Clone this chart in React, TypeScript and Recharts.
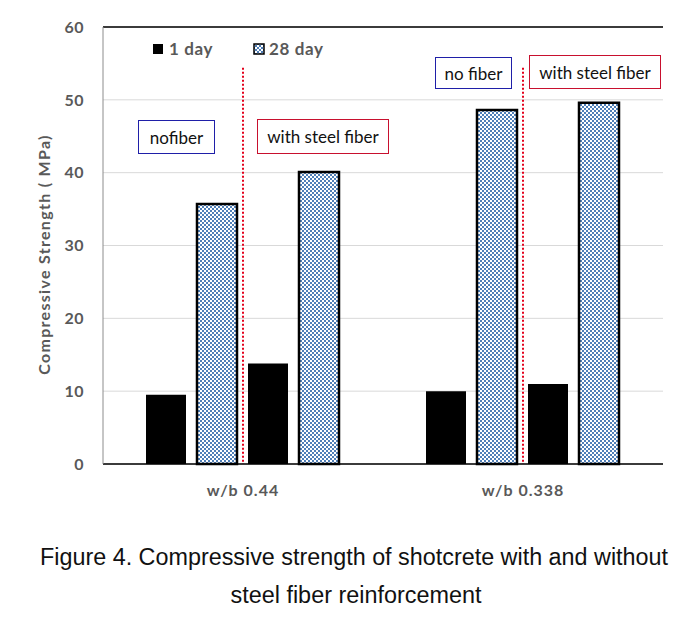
import React from 'react';
import { BarChart, Bar, XAxis, YAxis, CartesianGrid, ReferenceLine, Legend, Label } from 'recharts';

const categories = ['w/b 0.44', 'w/b 0.338'];
const oneDayNoFiber = [9.5, 10.0];
const day28NoFiber = [35.7, 48.6];
const oneDaySteel = [13.8, 11.0];
const day28Steel = [40.1, 49.6];
const yTicks = [0, 10, 20, 30, 40, 50, 60];
const legendLabels = ['1 day', '28 day'];
const yTitle = 'Compressive Strength ( MPa)';
const annotations = [
  { text: 'nofiber', color: '#1f1fa8', left: 138, top: 120, width: 77, height: 34 },
  { text: 'with steel fiber', color: '#c8102e', left: 257, top: 119, width: 132, height: 35 },
  { text: 'no fiber', color: '#1f1fa8', left: 435, top: 57, width: 77, height: 32 },
  { text: 'with steel fiber', color: '#c8102e', left: 529, top: 55, width: 132, height: 34 },
];

const data = categories.map((c, i) => ({
  name: c,
  d1n: oneDayNoFiber[i],
  d28n: day28NoFiber[i],
  d1s: oneDaySteel[i],
  d28s: day28Steel[i],
}));

const FONT = 'Lato, "Open Sans", sans-serif';
const GRAY = '#595959';

const LegendContent = () => (
  <div style={{ display: 'flex', alignItems: 'center', fontFamily: FONT, fontWeight: 700, fontSize: 17, letterSpacing: 0.6, color: GRAY }}>
    <div style={{ display: 'flex', alignItems: 'center', marginRight: 40 }}>
      <svg width={10} height={10} style={{ marginRight: 6 }}>
        <rect x={0} y={0} width={10} height={10} fill="#000" />
      </svg>
      <span>{legendLabels[0]}</span>
    </div>
    <div style={{ display: 'flex', alignItems: 'center' }}>
      <svg width={12} height={12} style={{ marginRight: 4 }}>
        <rect x={1} y={1} width={10} height={10} fill="url(#checkLegend)" stroke="#000" strokeWidth={1.5} />
        <defs>
          <pattern id="checkLegend" width={4} height={4} patternUnits="userSpaceOnUse">
            <rect width={4} height={4} fill="#ffffff" />
            <rect x={0} y={0} width={2} height={2} fill="#4f7fb8" />
            <rect x={2} y={2} width={2} height={2} fill="#4f7fb8" />
          </pattern>
        </defs>
      </svg>
      <span>{legendLabels[1]}</span>
    </div>
  </div>
);

const YTitle = (props: any) => {
  const vb = props.viewBox || { x: 0, y: 0, width: 0, height: 0 };
  const cx = vb.x + 43;
  const cy = vb.y + vb.height / 2 + 9;
  return (
    <text
      x={cx}
      y={cy}
      transform={`rotate(-90, ${cx}, ${cy})`}
      textAnchor="middle"
      dominantBaseline="central"
      fontFamily={FONT}
      fontWeight={700}
      fontSize={16}
      letterSpacing={1.3}
      fill={GRAY}
    >
      {yTitle}
    </text>
  );
};

export default function App() {
  const yTickStyle = { fontFamily: FONT, fontWeight: 700, fontSize: 16, letterSpacing: 0.5, fill: GRAY };
  const xTickStyle = { fontFamily: FONT, fontWeight: 700, fontSize: 16, letterSpacing: 1, fill: GRAY };
  return (
    <div style={{ position: 'absolute', left: 0, top: 0, width: 695, height: 628, background: '#fff' }}>
      <BarChart
        width={695}
        height={520}
        data={data}
        margin={{ top: 27, right: 32, left: 0, bottom: 0 }}
        barCategoryGap={43}
        barGap={11}
      >
        <defs>
          <pattern id="check" width={4} height={4} patternUnits="userSpaceOnUse">
            <rect width={4} height={4} fill="#ffffff" />
            <rect x={0} y={0} width={2} height={2} fill="#4f7fb8" />
            <rect x={2} y={2} width={2} height={2} fill="#4f7fb8" />
          </pattern>
        </defs>
        <CartesianGrid vertical={false} stroke="#d9d9d9" strokeWidth={1} />
        <XAxis
          dataKey="name"
          height={56}
          tickLine={false}
          tickSize={0}
          tickMargin={21}
          axisLine={{ stroke: '#000', strokeWidth: 1.5 }}
          tick={xTickStyle}
        />
        <YAxis
          width={103}
          domain={[0, 60]}
          ticks={yTicks}
          tickLine={false}
          tickSize={0}
          tickMargin={19}
          axisLine={{ stroke: '#8c8c8c', strokeWidth: 1 }}
          tick={yTickStyle}
        >
          <Label content={<YTitle />} />
        </YAxis>
        <YAxis
          yAxisId="right"
          orientation="right"
          width={0}
          domain={[0, 60]}
          tick={false}
          tickLine={false}
          axisLine={{ stroke: '#8c8c8c', strokeWidth: 1 }}
        />
        <ReferenceLine y={60} stroke="#000" strokeWidth={1.5} />
        <Legend
          verticalAlign="middle"
          align="center"
          layout="horizontal"
          content={<LegendContent />}
          wrapperStyle={{ position: 'absolute', top: 38, left: 153, width: 'auto' }}
        />
        <Bar dataKey="d1n" fill="#000" isAnimationActive={false} />
        <Bar dataKey="d28n" fill="url(#check)" stroke="#000" strokeWidth={2.5} isAnimationActive={false} />
        <Bar dataKey="d1s" fill="#000" isAnimationActive={false} />
        <Bar dataKey="d28s" fill="url(#check)" stroke="#000" strokeWidth={2.5} isAnimationActive={false} />
        {categories.map((c) => (
          <ReferenceLine
            key={c}
            segment={[{ x: c, y: 54.4 }, { x: c, y: 0 }]}
            stroke="#e3001b"
            strokeWidth={2}
            strokeDasharray="2 2"
          />
        ))}
      </BarChart>
      {annotations.map((a, i) => (
        <div
          key={i}
          style={{
            position: 'absolute',
            left: a.left,
            top: a.top,
            width: a.width,
            height: a.height,
            boxSizing: 'border-box',
            border: `1px solid ${a.color}`,
            background: '#fff',
            display: 'flex',
            alignItems: 'center',
            justifyContent: 'center',
            fontFamily: FONT,
            fontSize: 17,
            color: '#111',
          }}
        >
          {a.text}
        </div>
      ))}
      <svg width={695} height={108} style={{ position: 'absolute', left: 0, top: 520 }}>
        <text x={354} y={45} textAnchor="middle" textLength={628} lengthAdjust="spacingAndGlyphs"
          fontFamily='"Liberation Sans", sans-serif' fontSize={23} fill="#111">
          Figure 4. Compressive strength of shotcrete with and without
        </text>
        <text x={356} y={83} textAnchor="middle" textLength={251} lengthAdjust="spacingAndGlyphs"
          fontFamily='"Liberation Sans", sans-serif' fontSize={23} fill="#111">
          steel fiber reinforcement
        </text>
      </svg>
    </div>
  );
}
